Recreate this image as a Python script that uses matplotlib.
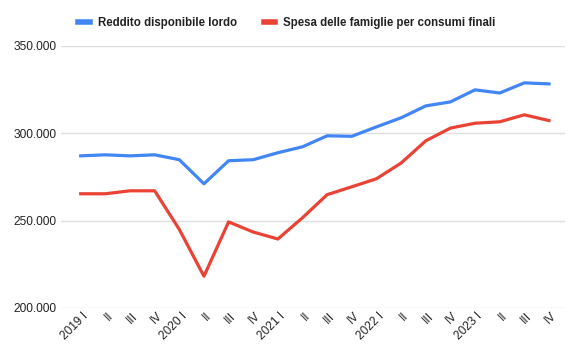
import matplotlib
matplotlib.use("Agg")
import matplotlib.pyplot as plt
import matplotlib.transforms as mtransforms
from matplotlib.ticker import FuncFormatter

plt.rcParams['font.family'] = ['Liberation Sans', 'DejaVu Sans']

trimestri = ["2019 I", "II", "III", "IV", "2020 I", "II", "III", "IV",
             "2021 I", "II", "III", "IV", "2022 I", "II", "III", "IV",
             "2023 I", "II", "III", "IV"]
reddito = [287.1, 287.7, 287.1, 287.7, 284.9, 271.1, 284.3, 284.9,
           288.9, 292.3, 298.6, 298.3, 303.7, 308.9, 315.7, 318.0,
           324.9, 323.1, 328.9, 328.3]
spesa = [265.4, 265.4, 267.1, 267.1, 245.0, 218.2, 249.3, 243.5,
         239.5, 251.7, 264.9, 269.4, 274.0, 283.0, 295.7, 303.0,
         305.8, 306.6, 310.6, 307.3]
reddito = [v * 1000 for v in reddito]
spesa = [v * 1000 for v in spesa]

fig = plt.figure(figsize=(5.8, 3.59), dpi=100)
ax = fig.add_axes([61 / 580, 1 - 308 / 359, (565 - 61) / 580, (308 - 46) / 359])

x = list(range(len(trimestri)))
ax.plot(x, reddito, color="#4285F4", lw=2.3, label="Reddito disponibile lordo",
        solid_joinstyle="round", zorder=3)
ax.plot(x, spesa, color="#EA4335", lw=2.3, label="Spesa delle famiglie per consumi finali",
        solid_joinstyle="round", zorder=3)

ax.set_ylim(200000, 350000)
ax.set_yticks([200000, 250000, 300000, 350000])
ax.yaxis.set_major_formatter(FuncFormatter(lambda v, p: f"{int(v):,}".replace(",", ".")))
ax.set_xlim(-0.8, 19.65)
ax.set_xticks(x)
ax.set_xticklabels(trimestri, rotation=45, ha="right", rotation_mode="anchor")

ax.grid(axis="y", color="#dddddd", lw=1)
ax.set_axisbelow(True)
for s in ax.spines.values():
    s.set_visible(False)
ax.tick_params(axis="both", length=0, labelsize=8.6, colors="#222222")
ax.tick_params(axis="y", pad=3)
ax.tick_params(axis="x", pad=1.5)

# etichette spostate un po' a destra come nel grafico originale
offset = mtransforms.ScaledTranslation(1.5 / 100, 0, fig.dpi_scale_trans)
for lab in ax.get_xticklabels():
    lab.set_transform(lab.get_transform() + offset)

leg = fig.legend(loc="center", bbox_to_anchor=(287 / 580, 1 - 23 / 359), ncol=2,
                 frameon=False, handlelength=1.0, handleheight=0.5, columnspacing=2.3,
                 handletextpad=0.7, prop={"size": 8.3, "weight": "bold"})
for t in leg.get_texts():
    t.set_color("#222222")
for h in leg.get_lines():
    h.set_linewidth(4)

fig.savefig("out.png", dpi=100)
